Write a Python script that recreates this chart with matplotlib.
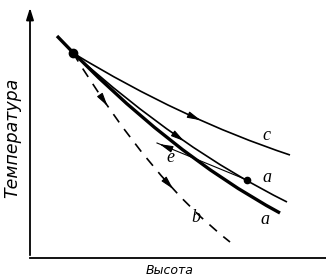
import matplotlib
matplotlib.use("Agg")
import matplotlib.pyplot as plt
from matplotlib.path import Path
from matplotlib.patches import PathPatch

thick_x = [27, 138.5, 250]
thick_y = [222, 105, 45]
a_x = [43, 150, 257]
a_y = [205, 109, 56]
c_x = [43, 151.5, 260]
c_y = [205, 139, 103]
b_x = [43, 121.5, 200]
b_y = [205, 77, 16]
start = (43, 205)
dot_a = (217, 78)
e_end = (127, 115)

label_text = ["c", "a", "a", "b", "e"]
label_x = [236, 237, 235, 166, 140]
label_y = [122, 80, 38, 40, 100]

fig = plt.figure(figsize=(3.26, 2.80), dpi=100)
ax = fig.add_axes([30 / 326, 22 / 280, 296 / 326, 250 / 280])
ax.set_xlim(0, 296)
ax.set_ylim(0, 250)
ax.axis("off")

# axes: plain horizontal, arrow on the vertical
ax.plot([0, 296], [0, 0], color="k", lw=1.3, clip_on=False)
ax.annotate("", xy=(0, 253), xytext=(0, 0), annotation_clip=False,
            arrowprops=dict(arrowstyle="-|>,head_length=0.7,head_width=0.22",
                            color="k", lw=1.3, mutation_scale=10))


def curve(xs, ys, **kw):
    p = Path(list(zip(xs, ys)), [Path.MOVETO, Path.CURVE3, Path.CURVE3])
    ax.add_patch(PathPatch(p, fill=False, color="k", **kw))


def bez(xs, ys, t):
    u = 1 - t
    return (u * u * xs[0] + 2 * u * t * xs[1] + t * t * xs[2],
            u * u * ys[0] + 2 * u * t * ys[1] + t * t * ys[2])


def arrow_on(xs, ys, t):
    ax.annotate("", xy=bez(xs, ys, t + 0.03), xytext=bez(xs, ys, t - 0.03),
                arrowprops=dict(arrowstyle="-|>,head_length=0.8,head_width=0.2",
                                color="k", lw=0.8, mutation_scale=10))


curve(thick_x, thick_y, lw=2.4, capstyle="butt")
curve(a_x, a_y, lw=1.2)
curve(c_x, c_y, lw=1.2)
curve(b_x, b_y, lw=1.2, linestyle=(0, (6, 5)))
ax.plot([dot_a[0], e_end[0]], [dot_a[1], e_end[1]], color="k", lw=0.8)
ax.plot(*start, "o", color="k", ms=6)
ax.plot(*dot_a, "o", color="k", ms=4.5)

arrow_on(c_x, c_y, 0.57)
arrow_on(a_x, a_y, 0.5)
arrow_on(b_x, b_y, 0.2)
arrow_on(b_x, b_y, 0.62)
ax.annotate("", xy=e_end, xytext=(e_end[0] + 12, e_end[1] - 5),
            arrowprops=dict(arrowstyle="-|>,head_length=0.8,head_width=0.2",
                            color="k", lw=0.8, mutation_scale=10))

for t, x, y in zip(label_text, label_x, label_y):
    ax.text(x, y, t, fontsize=13, family="Liberation Serif", style="italic",
            ha="center", va="center")

fig.text(170 / 326, 1 - 270 / 280, "Высота", fontsize=9, family="DejaVu Sans",
         style="italic", ha="center", va="center")
fig.text(12 / 326, 1 - 138 / 280, "Температура", fontsize=12.5, family="DejaVu Sans",
         style="italic", rotation=90, ha="center", va="center")

fig.savefig("out.png", dpi=100)
